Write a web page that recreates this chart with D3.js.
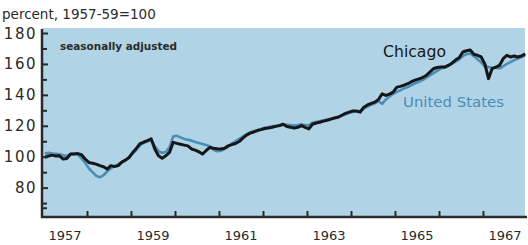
<!DOCTYPE html>
<html><head><meta charset="utf-8">
<script src="https://cdn.jsdelivr.net/npm/d3@7"></script>
<style>html,body{margin:0;padding:0;background:#fff}svg{display:block}</style>
</head><body><svg id="c" width="528" height="245"></svg>
<script>
const startYear = 1957;
const chicago = [99.5,100.5,101,100.5,100.6,98.5,98.8,101.7,101.8,102,101.3,98.5,
96.3,95.8,95.2,94.2,93.5,92,94.2,93.6,94.2,96.5,97.8,99.5,
102.8,105.5,108.5,109.5,110.4,111.5,105,100.6,99,100.6,102.8,109.3,
108.6,108,107.5,107,105,104.2,103.2,101.7,104,106,105.5,105.2,
105,105.5,107,107.8,108.5,109.8,112,114,115.2,116,116.9,117.5,
118.2,118.5,119,119.6,120.1,121,119.5,119,118.6,119,120.1,119,
118,121,121.8,122.3,123,123.6,124.3,125,125.5,126.8,128,128.8,
129.6,129.5,128.8,132,133.5,134.5,135.3,137,140.7,139.6,140.5,141.8,
145,145.5,146.3,147.2,148.5,149.5,150.3,151.2,152.5,154.7,156.9,157.7,
158,158,159,160.5,162.5,164,167.7,168.5,169,166.2,165.6,164.5,
160,150.5,157,158,159,163.4,165.6,164.5,165.1,164.5,165.1,166.5];
const unitedStates = [102,102.5,102,101.8,101.5,101,100.5,101.5,102,101.5,99,96,
92.5,90,87.7,86.6,88,90.5,92.5,94,95,96.5,98,99.8,
102,104.5,107.5,109,110,110.8,107,103.5,102.5,103,106,113,
113.5,112.5,111.5,111,110.4,109.5,108.8,108.2,107.5,106.8,104.5,103.5,
103.8,105,106.5,108.5,110,111.5,113,114.5,115.8,116.5,117.2,118,
118.7,119.2,119.6,120,120.4,120.8,120.6,120.4,120.3,120.5,121,120.5,
120.3,122,122.5,123,123.5,124,124.6,125.2,125.8,126.5,127.5,128.3,
129,129.5,129.5,131,132.5,133.5,134.5,136,134.2,137,139,140.7,
142,143,144.2,145,146.3,147.5,148.5,149.5,151,152.5,154,155.5,
157,157.5,158.5,160,161.5,163,165,166.3,166.7,165,163,161,
158.5,158,157.5,157.5,157,158.5,160,161.2,162.5,163.5,164.5,165.6];
const yTickLabels = [80,100,120,140,160,180];
const yMinorTicks = [67,70,90,110,130,150,170];
const xTickYears = [1958,1959,1960,1961,1962,1963,1964,1965,1966,1967];
const xLabelYears = [1957,1959,1961,1963,1965,1967];

const svg = d3.select("#c");
const ink = "#2a2a2a";
const blue = "#4a8db5";

const x = d3.scaleLinear().domain([1957, 1968]).range([43, 527]);
const y = d3.scaleLinear().domain([61, 180]).range([217, 33]);

// panel
svg.append("rect").attr("x", 42).attr("y", 28).attr("width", 483).attr("height", 189)
  .attr("fill", "#b0d3e6");

// title
svg.append("text").attr("x", 2).attr("y", 19).attr("fill", ink)
  .attr("font-family", "DejaVu Sans").attr("font-size", 13.5)
  .text("percent, 1957-59=100");

svg.append("text").attr("x", 60).attr("y", 50).attr("fill", ink)
  .attr("font-family", "DejaVu Sans").attr("font-weight", "bold").attr("font-size", 10.5)
  .attr("textLength", 117).attr("lengthAdjust", "spacingAndGlyphs")
  .text("seasonally adjusted");

// lines
const t = i => startYear + (i + 0.5) / 12;
const line = d3.line().x((d, i) => x(t(i))).y(d => y(d));
svg.append("path").datum(unitedStates).attr("d", line).attr("fill", "none")
  .attr("stroke", blue).attr("stroke-width", 2.6).attr("stroke-linejoin", "round");
svg.append("path").datum(chicago).attr("d", line).attr("fill", "none")
  .attr("stroke", "#161616").attr("stroke-width", 3).attr("stroke-linejoin", "round");

// axes
const yAxis = svg.append("g").attr("transform", "translate(42,0)")
  .call(d3.axisRight(y).tickValues(yTickLabels).tickSize(6).tickFormat(""));
const yMinor = svg.append("g").attr("transform", "translate(42,0)")
  .call(d3.axisRight(y).tickValues(yMinorTicks).tickSize(5).tickFormat(""));
[yAxis, yMinor].forEach(g => {
  g.select(".domain").remove();
  g.selectAll("line").attr("stroke", ink).attr("stroke-width", 2);
});
svg.append("line").attr("x1", 42).attr("x2", 42).attr("y1", 29).attr("y2", 218)
  .attr("stroke", ink).attr("stroke-width", 2.5);

svg.selectAll("text.ylab").data(yTickLabels).enter().append("text")
  .attr("class", "ylab").attr("x", 37).attr("y", d => y(d) + 5.5)
  .attr("text-anchor", "end").attr("fill", ink)
  .attr("font-family", "DejaVu Sans").attr("font-size", 15).attr("letter-spacing", 1.5)
  .text(d => String(d));

const xAxis = svg.append("g").attr("transform", "translate(0,217)")
  .call(d3.axisTop(x).tickValues(xTickYears).tickSize(6).tickFormat(""));
xAxis.select(".domain").remove();
xAxis.selectAll("line").attr("stroke", ink).attr("stroke-width", 2);
svg.append("line").attr("x1", 41).attr("x2", 527).attr("y1", 217).attr("y2", 217)
  .attr("stroke", ink).attr("stroke-width", 2.5);

svg.selectAll("text.xlab").data(xLabelYears).enter().append("text")
  .attr("class", "xlab").attr("x", d => x(d + 0.5)).attr("y", 240)
  .attr("text-anchor", "middle").attr("fill", ink)
  .attr("font-family", "DejaVu Sans").attr("font-size", 13)
  .text(d => String(d));

svg.append("text").attr("x", 383).attr("y", 57).attr("fill", "#161616")
  .attr("font-family", "DejaVu Sans").attr("font-size", 15)
  .attr("textLength", 63).attr("lengthAdjust", "spacingAndGlyphs").text("Chicago");
svg.append("text").attr("x", 403).attr("y", 107).attr("fill", blue)
  .attr("font-family", "DejaVu Sans").attr("font-size", 14)
  .attr("textLength", 101).attr("lengthAdjust", "spacingAndGlyphs").text("United States");
</script></body></html>
